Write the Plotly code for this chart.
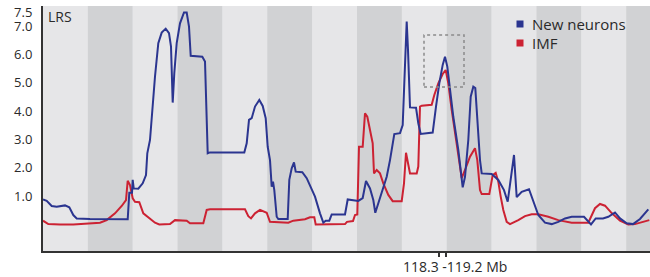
import plotly.graph_objects as go

# Positions along the chromosome (arbitrary position units) and LRS values
blue_x = [0, 3.7, 8.7, 13.7, 22, 26.3, 30.3, 33.7, 47, 84.7, 86.3, 89, 89.7, 90.7, 95.3, 99.7, 103, 104.3,
          107, 108.7, 112, 115.3, 118.7, 122.7, 126, 128, 129.7, 131.3, 133.7, 137, 141, 143.7, 146, 147.7,
          159.3, 162, 163, 164.7, 167, 201.3, 203.7, 206, 208.7, 212, 216.3, 219.7, 222.7, 224.7, 227, 228.7,
          230, 231.3, 233.7, 235.3, 244.7, 246.3, 248.7, 251, 252.7, 259.3, 263.7, 268.7, 272, 277, 280.3,
          282.7, 286.3, 288.7, 302, 304.7, 315.3, 319.7, 323, 327, 330.3, 332.3, 335.3, 338.7, 343.7, 347,
          351.3, 357, 359.7, 361.3, 363, 363.7, 365, 367, 373, 375.3, 377.7, 389.7, 393, 396.3, 399.7, 402,
          404.3, 407, 410.3, 415.3, 419.7, 422, 425.3, 427.7, 430.3, 432.3, 434.3, 437, 438.7, 448.7, 455.3,
          461, 464.7, 471, 473.7, 478.7, 486, 495.3, 502, 508.7, 515.3, 522, 528.7, 541, 548, 552.7, 560,
          565.3, 572, 577, 583.7, 590, 597, 600.3, 605.3]
blue_y = [0.88, 0.83, 0.65, 0.62, 0.67, 0.60, 0.33, 0.21, 0.19, 0.18, 1.12, 1.12, 1.57, 1.27, 1.26, 1.45, 1.74, 2.51,
          2.98, 3.80, 5.22, 6.40, 6.77, 6.91, 6.75, 6.28, 4.30, 5.34, 6.40, 7.10, 7.48, 7.48, 6.98, 5.95,
          5.92, 5.75, 4.39, 2.51, 2.54, 2.54, 2.86, 3.69, 3.75, 4.16, 4.39, 4.18, 3.75, 2.74, 2.27, 1.33,
          1.51, 1.21, 0.27, 0.19, 0.19, 1.57, 1.98, 2.19, 1.86, 1.84, 1.63, 1.21, 0.98, 0.39, 0.06,
          0.13, 0.13, 0.35, 0.35, 0.88, 0.83, 0.93, 1.53, 1.27, 0.86, 0.41, 0.74, 1.10, 1.68, 2.27,
          3.19, 3.22, 3.51, 4.98, 6.51, 7.16, 6.16, 4.13, 4.12, 3.57, 3.19, 3.24, 4.16, 4.98, 5.63, 5.92,
          5.57, 4.75, 3.80, 2.63, 1.31, 1.68, 2.98, 4.51, 4.86, 4.81, 3.80, 2.27, 1.80, 1.78, 1.57,
          1.21, 0.80, 2.45, 0.96, 1.15, 1.24, 0.33, 0.06, 0.01, 0.09, 0.21, 0.27, 0.27, 0.0, 0.21, 0.21,
          0.27, 0.42, 0.21, 0.04, 0.01, 0.19, 0.33, 0.53]

red_x = [0, 5.3, 17, 30.3, 57, 63.7, 72, 78.7, 83, 84.7, 87, 89.7, 92, 96.3, 100.3, 107, 112, 116.3, 122, 127,
         132, 137, 143.7, 147, 160.3, 163.7, 167, 202, 205.3, 208, 212, 217, 223.7, 227, 245.3, 250.3, 255.3,
         262, 267, 271.3, 272.7, 285.3, 302, 304, 310, 312, 314.3, 316, 319.7, 322, 324.3, 327, 329.7, 331,
         333.7, 337, 340.3, 345.3, 349.7, 358.7, 361, 363, 365.3, 367, 373.7, 375.3, 377, 378.7, 388.7, 391.3,
         395.3, 399.7, 402.7, 405.3, 408.7, 412, 415.3, 418.7, 422, 427, 432, 434.3, 437, 438.7, 446.3, 449.7,
         452.7, 455.3, 457.7, 460.3, 463.7, 467, 475.3, 482, 488.7, 495.3, 505.3, 515.3, 528.7, 545.3, 552,
         557, 562, 568.7, 577, 585.3, 592, 602, 606.3]
red_y = [0.13, 0.01, 0.0, 0.0, 0.06, 0.15, 0.39, 0.65, 0.86, 1.54, 1.39, 0.92, 0.80, 0.78, 0.39, 0.21, 0.06, 0.0, 0.01, 0.01,
         0.15, 0.13, 0.13, 0.04, 0.04, 0.51, 0.53, 0.53, 0.29, 0.21, 0.39, 0.51, 0.41, 0.09, 0.06, 0.13, 0.15,
         0.18, 0.25, 0.25, 0.0, 0.0, 0.01, 0.09, 0.12, 0.33, 0.35, 2.74, 2.74, 3.92, 3.80, 3.33, 2.86, 1.80,
         1.92, 1.80, 1.45, 1.04, 0.82, 0.82, 1.45, 2.53, 2.10, 1.80, 1.80, 2.04, 4.16, 4.19, 4.22, 4.57,
         4.98, 5.31, 5.45, 4.98, 4.04, 3.22, 2.51, 1.63, 1.92, 2.39, 2.69, 2.27, 1.21, 1.07, 1.07, 1.74,
         1.82, 1.51, 0.98, 0.51, 0.09, 0.01, 0.15, 0.29, 0.36, 0.36, 0.27, 0.15, 0.06, 0.06, 0.57,
         0.72, 0.66, 0.40, 0.13, 0.0, 0.01, 0.09, 0.15]

series_names = ["New neurons", "IMF"]
series_colors = ["#2b3590", "#cc2233"]

y_tick_vals = [1, 2, 3, 4, 5, 6, 7, 7.5]
y_tick_text = ["1.0", "2.0", "3.0", "4.0", "5.0", "6.0", "7.0", "7.5"]
x_marker_ticks = [396, 403]
x_label = "118.3 -119.2 Mb"
y_title = "LRS"
highlight_x = [381, 421]
highlight_y = [4.85, 6.69]

X_MAX = 607
N_BANDS = 14
band_w = X_MAX / 13.53
Y_RANGE = [-0.94, 7.71]

fig = go.Figure()

shapes = []
for i in range(N_BANDS):
    x0 = i * band_w
    x1 = min((i + 1) * band_w, X_MAX)
    shapes.append(dict(type="rect", xref="x", yref="paper", x0=x0, x1=x1, y0=0, y1=1,
                       fillcolor="#e6e6e8" if i % 2 == 0 else "#d1d2d4", line_width=0, layer="below"))

shapes.append(dict(type="rect", xref="x", yref="y", x0=highlight_x[0], x1=highlight_x[1],
                   y0=highlight_y[0], y1=highlight_y[1], line=dict(color="#8a8a8a", width=1.5, dash="dot"),
                   fillcolor="rgba(0,0,0,0)"))

for xs, ys, name, col in [(red_x, red_y, series_names[1], series_colors[1]),
                          (blue_x, blue_y, series_names[0], series_colors[0])]:
    fig.add_trace(go.Scatter(x=xs, y=ys, mode="lines", name=name,
                             line=dict(color=col, width=2), showlegend=False))

annotations = []
# legend made of squares + text
leg_y_px = [24, 43]
for name, col, ypx in zip(series_names, series_colors, leg_y_px):
    yc = (251 - ypx) / 245
    shapes.append(dict(type="rect", xref="paper", yref="paper",
                       x0=(516.5 - 43) / 607, x1=(523.5 - 43) / 607,
                       y0=yc - 3.5 / 245, y1=yc + 3.5 / 245, fillcolor=col, line_width=0))
    annotations.append(dict(text=name, xref="paper", yref="paper", x=(530 - 43) / 607, y=yc,
                            xanchor="left", yanchor="middle", showarrow=False,
                            font=dict(size=15, color="#2a2a2a")))

annotations.append(dict(text=y_title, xref="paper", yref="paper", x=(46 - 43) / 607, y=(251 - 16) / 245,
                        xanchor="left", yanchor="middle", showarrow=False,
                        font=dict(size=14, color="#2a2a2a")))
annotations.append(dict(text=x_label, xref="x", yref="paper", x=sum(x_marker_ticks) / 2 + 12,
                        y=(251 - 266) / 245, xanchor="center", yanchor="middle", showarrow=False,
                        font=dict(size=14, color="#2a2a2a")))

fig.update_layout(
    width=650, height=277,
    margin=dict(l=43, r=0, t=6, b=26),
    paper_bgcolor="white", plot_bgcolor="#e6e6e8",
    font=dict(family="Open Sans", color="#2a2a2a"),
    shapes=shapes, annotations=annotations,
    xaxis=dict(range=[0, X_MAX], showgrid=False, zeroline=False, showline=True,
               linecolor="#333333", linewidth=2, tickvals=x_marker_ticks, ticktext=["", ""],
               ticks="outside", ticklen=4, tickwidth=1.5, tickcolor="#333333"),
    yaxis=dict(range=Y_RANGE, showgrid=False, zeroline=False, showline=True,
               linecolor="#333333", linewidth=2, tickvals=y_tick_vals, ticktext=y_tick_text,
               ticks="", tickfont=dict(size=13, color="#2a2a2a"), ticklabelstandoff=6, automargin=False),
)

fig.write_html("out.html", config={"displayModeBar": False},
               post_script="document.body.style.margin='0';document.body.style.overflow='hidden';")
